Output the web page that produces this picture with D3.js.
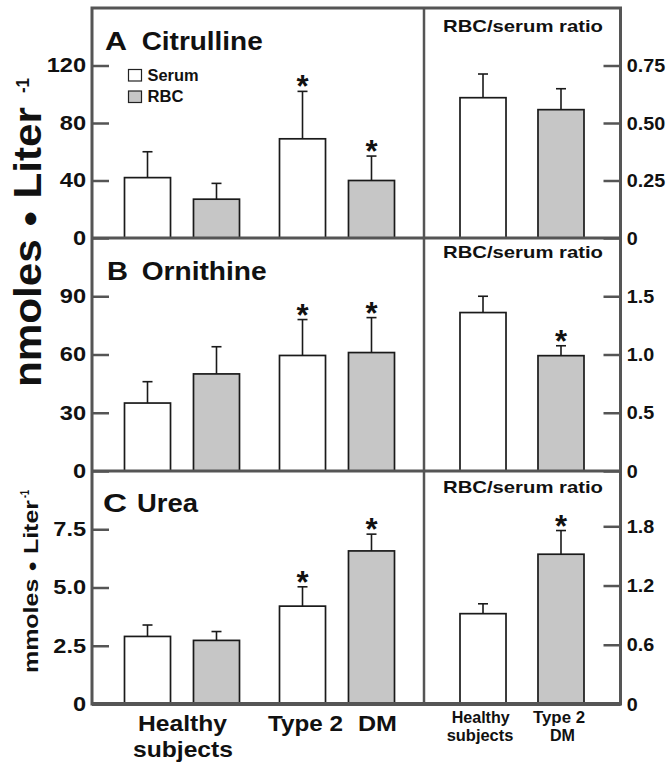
<!DOCTYPE html>
<html><head><meta charset="utf-8">
<script src="https://cdn.jsdelivr.net/npm/d3@7"></script>
<style>
body{margin:0;background:#fff}
text{font-family:"Liberation Sans",Arial,Helvetica,sans-serif;font-weight:bold;fill:#111}
</style>
</head><body><svg id="c" width="672" height="770"></svg>
<script>
// ---------- data ----------
const groups = ["Healthy subjects", "Type 2 DM"];
const series = ["Serum", "RBC"];
const panelLetters = ["A", "B", "C"];
const panelNames = ["Citrulline", "Ornithine", "Urea"];

// A: citrulline (nmol/L)
const citSerum = [42, 69], citSerumErr = [18, 33];
const citRBC = [27, 40], citRBCErr = [11, 17];
const citRatio = [0.61, 0.558], citRatioErr = [0.103, 0.091];
const citStars = {Serum: [false, true], RBC: [false, true], Ratio: [false, false]};

// B: ornithine (nmol/L)
const ornSerum = [35, 59.5], ornSerumErr = [11, 18.5];
const ornRBC = [50, 61], ornRBCErr = [14, 18];
const ornRatio = [1.36, 0.99], ornRatioErr = [0.14, 0.085];
const ornStars = {Serum: [false, true], RBC: [false, true], Ratio: [false, true]};

// C: urea (mmol/L)
const ureaSerum = [2.9, 4.2], ureaSerumErr = [0.49, 0.83];
const ureaRBC = [2.73, 6.57], ureaRBCErr = [0.38, 0.72];
const ureaRatio = [0.915, 1.517], ureaRatioErr = [0.10, 0.24];
const ureaStars = {Serum: [false, true], RBC: [false, true], Ratio: [false, true]};

// axes
const leftMax = [160, 120, 10];
const leftTicks = [[0, 40, 80, 120], [0, 30, 60, 90], [0, 2.5, 5, 7.5]];
const leftTickLabels = [["0", "40", "80", "120"], ["0", "30", "60", "90"], ["0", "2.5", "5.0", "7.5"]];
const rightMax = [1.0, 2.0, 2.36];
const rightTicks = [[0, 0.25, 0.5, 0.75], [0, 0.5, 1.0, 1.5], [0, 0.6, 1.2, 1.8]];
const rightTickLabels = [["0", "0.25", "0.50", "0.75"], ["0", "0.5", "1.0", "1.5"], ["0", "0.6", "1.2", "1.8"]];

const ratioTitle = "RBC/serum ratio";
const yLabelMain = ["nmoles ", "●", " Liter"];
const yLabelUrea = ["mmoles ", "●", " Liter"];

// ---------- layout ----------
const svg = d3.select("#c");
const L = 92, R = 620.5, T = 8, B = 704, MID = 424;
const panelTop = [8, 238, 471];
const panelBot = [238, 471, 704];
const frameCol = "#555", gray = "#c6c6c6";

const panels = [
  {serum: citSerum, serumErr: citSerumErr, rbc: citRBC, rbcErr: citRBCErr, ratio: citRatio, ratioErr: citRatioErr, stars: citStars},
  {serum: ornSerum, serumErr: ornSerumErr, rbc: ornRBC, rbcErr: ornRBCErr, ratio: ornRatio, ratioErr: ornRatioErr, stars: ornStars},
  {serum: ureaSerum, serumErr: ureaSerumErr, rbc: ureaRBC, rbcErr: ureaRBCErr, ratio: ureaRatio, ratioErr: ureaRatioErr, stars: ureaStars}
];

const x0 = d3.scalePoint().domain(groups).range([182, 337]);
const x1 = d3.scaleBand().domain(series).range([-57.5, 57.5]).paddingInner(0.333);
const xr = d3.scaleBand().domain(groups).range([460, 584]).paddingInner(0.41);

const gBars = svg.append("g");
const gFrame = svg.append("g");
const gText = svg.append("g");

function drawBar(cx, w, y, val, err, fill, star) {
  gBars.append("rect")
    .attr("x", cx - w / 2).attr("y", y(val))
    .attr("width", w).attr("height", y(0) - y(val))
    .attr("fill", fill).attr("stroke", "#1a1a1a").attr("stroke-width", 1.7);
  const top = y(val + err);
  gBars.append("line").attr("x1", cx).attr("x2", cx).attr("y1", y(val)).attr("y2", top)
    .attr("stroke", "#1a1a1a").attr("stroke-width", 1.6);
  gBars.append("line").attr("x1", cx - 5).attr("x2", cx + 5).attr("y1", top).attr("y2", top)
    .attr("stroke", "#1a1a1a").attr("stroke-width", 1.6);
  if (star) {
    gText.append("text").attr("x", cx).attr("y", top + 6)
      .attr("text-anchor", "middle").style("font-size", "31px").text("*");
  }
}

panels.forEach((p, i) => {
  const yL = d3.scaleLinear().domain([0, leftMax[i]]).range([panelBot[i], panelTop[i]]);
  const yR = d3.scaleLinear().domain([0, rightMax[i]]).range([panelBot[i], panelTop[i]]);
  groups.forEach((g, gi) => {
    const w = x1.bandwidth();
    drawBar(x0(g) + x1("Serum") + w / 2, w, yL, p.serum[gi], p.serumErr[gi], "#fff", p.stars.Serum[gi]);
    drawBar(x0(g) + x1("RBC") + w / 2, w, yL, p.rbc[gi], p.rbcErr[gi], gray, p.stars.RBC[gi]);
    drawBar(xr(g) + xr.bandwidth() / 2, xr.bandwidth(), yR, p.ratio[gi], p.ratioErr[gi], gi === 0 ? "#fff" : gray, p.stars.Ratio[gi]);
  });

  // axes
  const axL = d3.axisLeft(yL).tickValues(leftTicks[i]).tickFormat((d, k) => leftTickLabels[i][k])
    .tickSizeInner(-17).tickSizeOuter(0).tickPadding(5);
  const gl = gFrame.append("g").attr("transform", `translate(${L},0)`).call(axL);
  gl.select(".domain").remove();
  gl.selectAll(".tick line").attr("stroke", frameCol).attr("stroke-width", 2.5);
  gl.selectAll(".tick text").attr("fill", "#111").style("font-size", "20px")
    .style("font-family", '"Liberation Sans",Arial,sans-serif').style("font-weight", "bold")
    .attr("transform", "scale(1.18,1)");

  const axR = d3.axisRight(yR).tickValues(rightTicks[i]).tickFormat((d, k) => rightTickLabels[i][k])
    .tickSizeInner(-17).tickSizeOuter(0).tickPadding(6);
  const gr = gFrame.append("g").attr("transform", `translate(${R},0)`).call(axR);
  gr.select(".domain").remove();
  gr.selectAll(".tick line").attr("stroke", frameCol).attr("stroke-width", 2.5);
  gr.selectAll(".tick text").attr("fill", "#111").style("font-size", "19px")
    .style("font-family", '"Liberation Sans",Arial,sans-serif').style("font-weight", "bold")
    .attr("transform", "scale(1.04,1)");

  // panel titles
  const base = [50, 280, 511.7][i];
  const lx = [105, 107, 103][i], lw = [22, 21, 24][i];
  const nx = [141.7, 141.7, 137][i], nw = [121, 125, 61][i];
  gText.append("text").attr("x", lx).attr("y", base).style("font-size", "26px")
    .attr("textLength", lw).attr("lengthAdjust", "spacingAndGlyphs").text(panelLetters[i]);
  gText.append("text").attr("x", nx).attr("y", base).style("font-size", "26px")
    .attr("textLength", nw).attr("lengthAdjust", "spacingAndGlyphs").text(panelNames[i]);

  const rb = [31.7, 258, 493.3][i];
  gText.append("text").attr("x", 443).attr("y", rb).style("font-size", "17px")
    .attr("textLength", 160).attr("lengthAdjust", "spacingAndGlyphs").text(ratioTitle);
});

// frame
gFrame.append("rect").attr("x", L).attr("y", T).attr("width", R - L).attr("height", B - T)
  .attr("fill", "none").attr("stroke", frameCol).attr("stroke-width", 3);
gFrame.append("line").attr("x1", L).attr("x2", R).attr("y1", B).attr("y2", B)
  .attr("stroke", frameCol).attr("stroke-width", 4);
[238, 471].forEach(y => gFrame.append("line").attr("x1", L).attr("x2", R).attr("y1", y).attr("y2", y)
  .attr("stroke", frameCol).attr("stroke-width", 3));
gFrame.append("line").attr("x1", MID).attr("x2", MID).attr("y1", T).attr("y2", B)
  .attr("stroke", frameCol).attr("stroke-width", 2.5);

// legend
const leg = [{name: series[0], fill: "#fff", y: 69.5, base: 81}, {name: series[1], fill: gray, y: 91, base: 102.3}];
leg.forEach(d => {
  gText.append("rect").attr("x", 128.5).attr("y", d.y).attr("width", 13).attr("height", 11.5)
    .attr("fill", d.fill).attr("stroke", "#222").attr("stroke-width", 1.2);
  gText.append("text").attr("x", 147.5).attr("y", d.base).style("font-size", "16px")
    .attr("textLength", d.name === "Serum" ? 51 : 36).attr("lengthAdjust", "spacingAndGlyphs").text(d.name);
});

// y labels
const g1 = gText.append("g").attr("transform", "translate(41,387) rotate(-90)");
const t1 = g1.append("text").style("font-size", "38px")
  .attr("textLength", 280).attr("lengthAdjust", "spacingAndGlyphs");
t1.append("tspan").text(yLabelMain[0]);
t1.append("tspan").style("font-size", "26px").attr("dy", -3).text(yLabelMain[1]);
t1.append("tspan").attr("dy", 3).text(yLabelMain[2]);
g1.append("text").attr("x", 294).attr("y", -12).style("font-size", "18px")
  .attr("textLength", 15).attr("lengthAdjust", "spacingAndGlyphs").text("-1");

const g2 = gText.append("g").attr("transform", "translate(38,673) rotate(-90)");
const t2 = g2.append("text").style("font-size", "21px")
  .attr("textLength", 173).attr("lengthAdjust", "spacingAndGlyphs");
t2.append("tspan").text(yLabelUrea[0]);
t2.append("tspan").style("font-size", "15px").attr("dy", -1).text(yLabelUrea[1]);
t2.append("tspan").attr("dy", 1).text(yLabelUrea[2]);
g2.append("text").attr("x", 175).attr("y", -9).style("font-size", "12px")
  .attr("textLength", 8).attr("lengthAdjust", "spacingAndGlyphs").text("-1");

// x labels
const xl = [
  {t: "Healthy", x: 138, y: 731, w: 89, fs: 22},
  {t: "subjects", x: 133, y: 757, w: 100, fs: 22},
  {t: "Type 2", x: 268, y: 731, w: 75, fs: 22},
  {t: "DM", x: 358, y: 731, w: 39, fs: 22},
  {t: "Healthy", x: 451.7, y: 723, w: 58, fs: 16},
  {t: "subjects", x: 446.7, y: 741, w: 66.7, fs: 16},
  {t: "Type 2", x: 533, y: 723, w: 52, fs: 16},
  {t: "DM", x: 550, y: 741, w: 25, fs: 16}
];
xl.forEach(d => gText.append("text").attr("x", d.x).attr("y", d.y).style("font-size", d.fs + "px")
  .attr("textLength", d.w).attr("lengthAdjust", "spacingAndGlyphs").text(d.t));
</script>
</body></html>
